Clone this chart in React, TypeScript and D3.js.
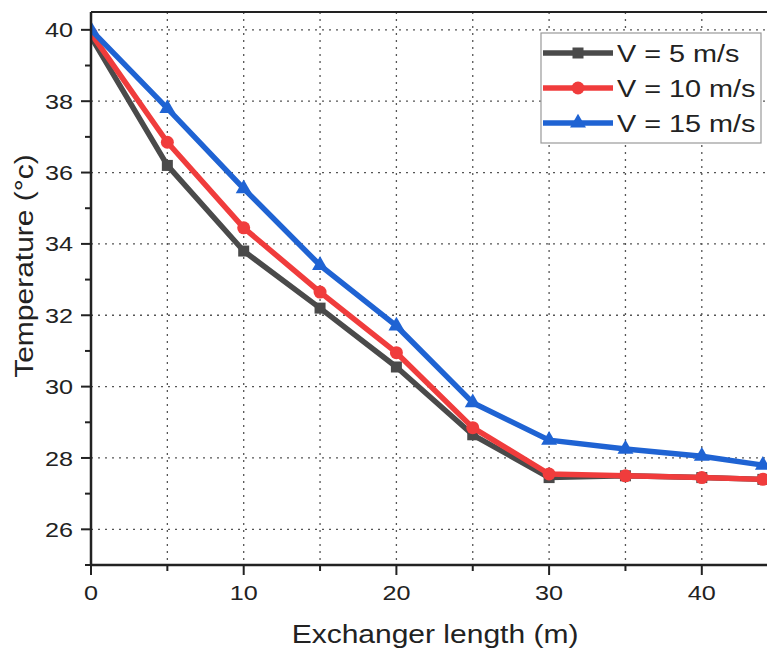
import React from "react";
import * as d3 from "d3";

const xs = [0, 5, 10, 15, 20, 25, 30, 35, 40, 44];
const v5 = [39.8, 36.2, 33.8, 32.2, 30.55, 28.65, 27.45, 27.5, 27.45, 27.4];
const v10 = [39.9, 36.85, 34.45, 32.65, 30.95, 28.85, 27.55, 27.5, 27.45, 27.4];
const v15 = [40.0, 37.8, 35.55, 33.4, 31.7, 29.55, 28.5, 28.25, 28.05, 27.8];
const seriesNames = ["V = 5 m/s", "V = 10 m/s", "V = 15 m/s"];
const xTicks = [0, 10, 20, 30, 40];
const xMinor = [5, 15, 25, 35, 45];
const yTicks = [26, 28, 30, 32, 34, 36, 38, 40];
const yMinor = [25, 27, 29, 31, 33, 35, 37, 39];

const W = 767, H = 649;
const left = 91, top = 12, bottom = 565;
const SX = 1.2;

function T({ x, y, rot = 0, anchor = "start", size, dy = "0", children }: any) {
  return (
    <g transform={`translate(${x},${y}) rotate(${rot}) scale(${SX},1)`}>
      <text x={0} y={0} dy={dy} textAnchor={anchor} fontSize={size} fill="#222">{children}</text>
    </g>
  );
}

export default function App() {
  const x = d3.scaleLinear().domain([0, 10]).range([left, left + 152.7]);
  const y = d3.scaleLinear().domain([25, 40.5]).range([bottom, top]);
  const right = W + 20;
  const series = [
    { name: seriesNames[0], vals: v5, color: "#4a4a4a", marker: "square" },
    { name: seriesNames[1], vals: v10, color: "#f03c3c", marker: "circle" },
    { name: seriesNames[2], vals: v15, color: "#1f63d3", marker: "triangle" },
  ];
  const line = d3.line<number>().x((_, i) => x(xs[i])).y((d) => y(d));
  const marker = (type: string, cx: number, cy: number, color: string, key: any) => {
    if (type === "square") return <rect key={key} x={cx - 5.5} y={cy - 5.5} width={11} height={11} fill={color} />;
    if (type === "circle") return <circle key={key} cx={cx} cy={cy} r={6.5} fill={color} />;
    const sym = d3.symbol(d3.symbolTriangle, 110)();
    return <path key={key} d={sym as string} transform={`translate(${cx},${cy})`} fill={color} />;
  };
  const font = "'Liberation Sans', Arial, sans-serif";
  const lg = { x: 541, y: 33, w: 220, h: 110 };
  return (
    <svg width={W} height={H} style={{ position: "absolute", left: 0, top: 0, background: "#fff" }} fontFamily={font}>
      <defs>
        <clipPath id="clip">
          <rect x={left} y={top - 10} width={W - left} height={bottom - top + 10} />
        </clipPath>
      </defs>
      {/* grid */}
      {[...xTicks, ...xMinor].filter((v) => v > 0).map((v) => (
        <line key={"gx" + v} x1={x(v)} x2={x(v)} y1={top} y2={bottom} stroke="#555" strokeWidth={1.3} strokeDasharray="2,5" />
      ))}
      {yTicks.map((v) => (
        <line key={"gy" + v} x1={left} x2={right} y1={y(v)} y2={y(v)} stroke="#555" strokeWidth={1.3} strokeDasharray="2,5" />
      ))}
      {/* series */}
      <g clipPath="url(#clip)">
        {series.map((s) => (
          <g key={s.name}>
            <path d={line(s.vals) as string} fill="none" stroke={s.color} strokeWidth={5.5} strokeLinejoin="round" />
            {s.vals.map((v, i) => marker(s.marker, x(xs[i]), y(v), s.color, i))}
          </g>
        ))}
      </g>
      {/* frame */}
      <line x1={left} x2={right} y1={top} y2={top} stroke="#222" strokeWidth={2} />
      <line x1={left} x2={left} y1={top} y2={bottom} stroke="#222" strokeWidth={2.5} />
      <line x1={left - 1} x2={right} y1={bottom} y2={bottom} stroke="#222" strokeWidth={2.5} />
      {/* y ticks */}
      {yTicks.map((v) => (
        <g key={"yt" + v}>
          <line x1={left - 10} x2={left} y1={y(v)} y2={y(v)} stroke="#222" strokeWidth={2} />
          <T x={left - 18} y={y(v)} anchor="end" size={21} dy="0.36em">{v}</T>
        </g>
      ))}
      {yMinor.map((v) => (
        <line key={"ym" + v} x1={left - 6} x2={left} y1={y(v)} y2={y(v)} stroke="#222" strokeWidth={2} />
      ))}
      {/* x ticks */}
      {xTicks.map((v) => (
        <g key={"xt" + v}>
          <line x1={x(v)} x2={x(v)} y1={bottom} y2={bottom + 10} stroke="#222" strokeWidth={2} />
          <T x={x(v)} y={bottom + 35} anchor="middle" size={21}>{v}</T>
        </g>
      ))}
      {xMinor.map((v) => (
        <line key={"xm" + v} x1={x(v)} x2={x(v)} y1={bottom} y2={bottom + 6} stroke="#222" strokeWidth={2} />
      ))}
      {/* axis titles */}
      <T x={435} y={643} anchor="middle" size={25}>Exchanger length (m)</T>
      <T x={33} y={266} rot={-90} anchor="middle" size={25}>Temperature (°c)</T>
      {/* legend */}
      <rect x={lg.x} y={lg.y} width={lg.w} height={lg.h} fill="#fff" stroke="#999" strokeWidth={1.2} />
      {series.map((s, i) => {
        const cy = lg.y + 20 + i * 35;
        return (
          <g key={"lg" + i}>
            <line x1={lg.x + 2} x2={lg.x + 72} y1={cy} y2={cy} stroke={s.color} strokeWidth={5.5} />
            {marker(s.marker, lg.x + 37, cy, s.color, "m")}
            <T x={lg.x + 76} y={cy} size={24} dy="0.36em">{s.name}</T>
          </g>
        );
      })}
    </svg>
  );
}
